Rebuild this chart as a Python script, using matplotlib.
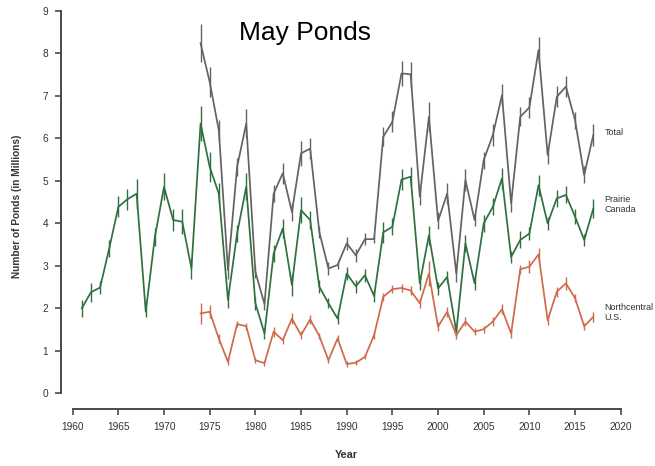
import numpy as np
import matplotlib.pyplot as plt

plt.rcParams['font.family'] = ['Liberation Sans', 'DejaVu Sans']

# May pond counts (millions) with standard errors
years_canada = list(range(1961, 2018))
canada = [2.00, 2.38, 2.49, 3.41, 4.39, 4.57, 4.70, 1.92, 3.68, 4.86,
          4.08, 4.04, 2.94, 6.35, 5.33, 4.70, 2.20, 3.76, 4.86, 2.12,
          1.41, 3.29, 3.88, 2.55, 4.31, 4.08, 2.51, 2.12, 1.76, 2.82,
          2.52, 2.78, 2.29, 3.79, 3.92, 5.03, 5.10, 2.59, 3.72, 2.47,
          2.74, 1.45, 3.53, 2.59, 4.00, 4.39, 5.06, 3.21, 3.61, 3.76,
          4.90, 4.00, 4.59, 4.67, 4.16, 3.61, 4.35]
canada_se = [0.20, 0.22, 0.15, 0.20, 0.25, 0.25, 0.35, 0.12, 0.22, 0.32,
             0.25, 0.30, 0.25, 0.42, 0.35, 0.25, 0.18, 0.20, 0.32, 0.15,
             0.12, 0.20, 0.22, 0.25, 0.30, 0.22, 0.15, 0.12, 0.12, 0.15,
             0.15, 0.15, 0.15, 0.25, 0.20, 0.25, 0.22, 0.15, 0.22, 0.15,
             0.15, 0.10, 0.20, 0.15, 0.20, 0.20, 0.25, 0.15, 0.20, 0.15,
             0.25, 0.15, 0.20, 0.20, 0.18, 0.15, 0.22]

years_us = list(range(1974, 2018))
total = [8.24, 7.33, 6.19, 2.90, 5.33, 6.35, 2.86, 2.10, 4.70, 5.18,
         4.27, 5.65, 5.76, 3.80, 2.94, 3.02, 3.53, 3.25, 3.63, 3.63,
         6.04, 6.39, 7.53, 7.51, 4.63, 6.51, 4.06, 4.70, 2.82, 5.02,
         4.08, 5.49, 6.08, 7.02, 4.47, 6.51, 6.73, 8.08, 5.61, 6.98,
         7.22, 6.43, 5.14, 6.08]
total_se = [0.45, 0.35, 0.25, 0.20, 0.22, 0.35, 0.15, 0.15, 0.20, 0.25,
            0.22, 0.30, 0.25, 0.15, 0.15, 0.10, 0.15, 0.15, 0.15, 0.10,
            0.22, 0.25, 0.30, 0.30, 0.20, 0.35, 0.20, 0.25, 0.20, 0.25,
            0.15, 0.20, 0.25, 0.25, 0.20, 0.22, 0.25, 0.30, 0.20, 0.25,
            0.25, 0.20, 0.20, 0.25]
ncus = [1.88, 1.92, 1.29, 0.74, 1.63, 1.58, 0.78, 0.71, 1.45, 1.25,
        1.76, 1.37, 1.74, 1.35, 0.78, 1.29, 0.69, 0.72, 0.86, 1.37,
        2.27, 2.45, 2.48, 2.42, 2.12, 2.82, 1.57, 1.92, 1.37, 1.69,
        1.45, 1.51, 1.69, 1.98, 1.41, 2.92, 2.98, 3.27, 1.72, 2.39,
        2.59, 2.24, 1.58, 1.80]
ncus_se = [0.25, 0.15, 0.10, 0.08, 0.08, 0.08, 0.06, 0.06, 0.12, 0.08,
           0.12, 0.10, 0.10, 0.08, 0.06, 0.08, 0.06, 0.06, 0.06, 0.08,
           0.10, 0.10, 0.10, 0.10, 0.12, 0.30, 0.10, 0.12, 0.08, 0.10,
           0.08, 0.08, 0.10, 0.12, 0.10, 0.10, 0.15, 0.15, 0.10, 0.12,
           0.15, 0.10, 0.08, 0.12]

gray = '#636363'
green = '#2f7040'
red = '#cf6a4a'

fig = plt.figure(figsize=(6.55, 4.66), dpi=100)
ax = fig.add_axes([0.0927, 0.1217, 0.8731, 0.8729])

series = [
    (years_us, total, total_se, gray),
    (years_canada, canada, canada_se, green),
    (years_us, ncus, ncus_se, red),
]
for yrs, vals, se, col in series:
    ax.errorbar(yrs, vals, yerr=se, color=col, lw=1.25, elinewidth=1.0,
                capsize=0, clip_on=False)

ax.set_xlim(1958.69, 2021.3)
ax.set_ylim(-0.376, 9.2)
ax.set_xticks(range(1960, 2021, 5))
ax.set_yticks(range(0, 10))

for side in ['top', 'right']:
    ax.spines[side].set_visible(False)
ax.spines['left'].set_bounds(0, 9)
ax.spines['bottom'].set_bounds(1960, 2020)
for side in ['left', 'bottom']:
    ax.spines[side].set_color('#4a4a4a')
    ax.spines[side].set_linewidth(1.4)
ax.tick_params(axis='both', colors='#4a4a4a', labelcolor='#333333',
               labelsize=7.3, length=4, width=1.2)
ax.tick_params(axis='x', pad=5)
ax.tick_params(axis='y', pad=5)

ax.set_xlabel('Year', fontsize=7.8, fontweight='bold', color='#333333',
              labelpad=13)
ax.set_ylabel('Number of Ponds (in Millions)', fontsize=7.3,
              fontweight='bold', color='#333333', labelpad=15)

ax.text(2018.2, 6.15, 'Total', fontsize=6.5, color='#333333', va='center')
ax.text(2018.2, 4.45, 'Prairie\nCanada', fontsize=6.5, color='#333333',
        va='center', linespacing=1.1)
ax.text(2018.2, 1.9, 'Northcentral\nU.S.', fontsize=6.5, color='#333333',
        va='center', linespacing=1.1)

fig.text(0.466, 0.93, 'May Ponds', fontsize=19, ha='center', va='center',
         color='black')

fig.savefig('out.png', dpi=100)
